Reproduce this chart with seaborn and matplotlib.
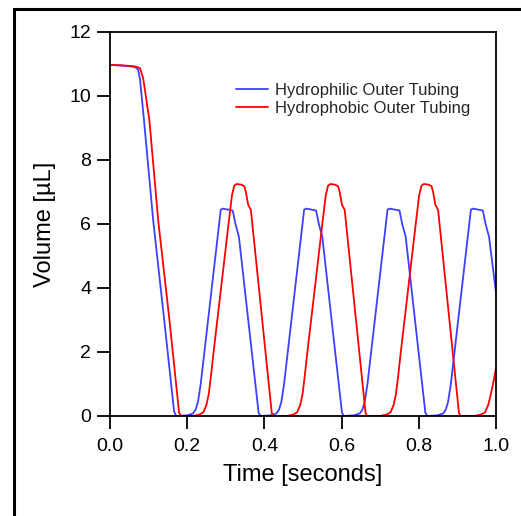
import matplotlib
matplotlib.use("Agg")
import matplotlib.pyplot as plt
import matplotlib.patches as mpatches
import pandas as pd
import seaborn as sns

# Hydrophilic outer tubing (blue) - time [s], volume [uL]
hydrophilic_t = [
    0.000, 0.030, 0.060, 0.068, 0.073, 0.078, 0.088, 0.112, 0.140, 0.166, 0.171,
    0.200, 0.215, 0.222, 0.228, 0.235, 0.287, 0.292, 0.306, 0.318, 0.325, 0.334, 0.385, 0.390,
    0.416, 0.431, 0.438, 0.444, 0.451, 0.503, 0.508, 0.522, 0.534, 0.541, 0.550, 0.601, 0.606,
    0.632, 0.647, 0.654, 0.660, 0.667, 0.719, 0.724, 0.738, 0.750, 0.757, 0.766, 0.817, 0.822,
    0.848, 0.863, 0.870, 0.876, 0.883, 0.935, 0.940, 0.954, 0.966, 0.973, 0.982, 1.000,
]
hydrophilic_v = [
    10.97, 10.95, 10.92, 10.88, 10.82, 10.50, 9.25, 6.10, 3.05, 0.15, 0.00,
    0.02, 0.08, 0.20, 0.45, 1.00, 6.45, 6.48, 6.45, 6.42, 6.00, 5.60, 0.10, 0.00,
    0.02, 0.08, 0.20, 0.45, 1.00, 6.45, 6.48, 6.45, 6.42, 6.00, 5.60, 0.10, 0.00,
    0.02, 0.08, 0.20, 0.45, 1.00, 6.45, 6.48, 6.45, 6.42, 6.00, 5.60, 0.10, 0.00,
    0.02, 0.08, 0.20, 0.45, 1.00, 6.45, 6.48, 6.45, 6.42, 6.00, 5.60, 3.85,
]

# Hydrophobic outer tubing (red)
hydrophobic_t = [
    0.000, 0.030, 0.060, 0.072, 0.078, 0.086, 0.102, 0.125, 0.154, 0.179, 0.184,
    0.215, 0.233, 0.242, 0.250, 0.256, 0.262, 0.268, 0.308, 0.316, 0.322, 0.328, 0.340, 0.348, 0.352, 0.358, 0.365, 0.419, 0.423,
    0.458, 0.476, 0.485, 0.493, 0.499, 0.505, 0.511, 0.551, 0.559, 0.565, 0.571, 0.583, 0.591, 0.595, 0.601, 0.608, 0.662, 0.666,
    0.700, 0.718, 0.727, 0.735, 0.741, 0.747, 0.753, 0.793, 0.801, 0.807, 0.813, 0.825, 0.833, 0.837, 0.843, 0.850, 0.904, 0.908,
    0.945, 0.962, 0.972, 0.980, 0.987, 0.994, 1.000,
]
hydrophobic_v = [
    10.97, 10.96, 10.93, 10.90, 10.86, 10.55, 9.25, 6.10, 3.00, 0.10, 0.00,
    0.00, 0.05, 0.12, 0.35, 0.70, 1.30, 1.96, 6.10, 6.90, 7.20, 7.25, 7.23, 7.18, 7.00, 6.60, 6.44, 0.10, 0.00,
    0.00, 0.05, 0.12, 0.35, 0.70, 1.30, 1.96, 6.10, 6.90, 7.20, 7.25, 7.23, 7.18, 7.00, 6.60, 6.44, 0.10, 0.00,
    0.00, 0.05, 0.12, 0.35, 0.70, 1.30, 1.96, 6.10, 6.90, 7.20, 7.25, 7.23, 7.18, 7.00, 6.60, 6.44, 0.10, 0.00,
    0.00, 0.05, 0.12, 0.35, 0.70, 1.10, 1.50,
]

series_names = ["Hydrophilic Outer Tubing", "Hydrophobic Outer Tubing"]
series_colors = ["#3f3fff", "#ff0000"]

x_ticks = [0.0, 0.2, 0.4, 0.6, 0.8, 1.0]
y_ticks = [0, 2, 4, 6, 8, 10, 12]


def main() -> None:
    sns.set_theme(style="white")
    plt.rcParams["font.family"] = ["Liberation Sans", "DejaVu Sans"]

    df = pd.concat(
        [
            pd.DataFrame({"time": hydrophilic_t, "volume": hydrophilic_v, "series": series_names[0]}),
            pd.DataFrame({"time": hydrophobic_t, "volume": hydrophobic_v, "series": series_names[1]}),
        ],
        ignore_index=True,
    )

    fig = plt.figure(figsize=(5.21, 5.16), dpi=100)
    ax = fig.add_axes([110 / 521, 100 / 516, 386 / 521, 384 / 516])

    sns.lineplot(
        data=df,
        x="time",
        y="volume",
        hue="series",
        hue_order=series_names,
        palette=series_colors,
        estimator=None,
        sort=False,
        linewidth=1.3,
        ax=ax,
    )

    ax.set_xlim(0, 1)
    ax.set_ylim(0, 12)
    ax.set_xticks(x_ticks)
    ax.set_xticklabels([f"{t:.1f}" for t in x_ticks])
    ax.set_yticks(y_ticks)
    ax.tick_params(
        axis="both", direction="out", length=9.5, width=1.3, labelsize=14,
        colors="black", bottom=True, left=True,
    )
    ax.tick_params(axis="x", pad=6)
    ax.tick_params(axis="y", pad=4)
    for side in ["left", "bottom", "right", "top"]:
        ax.spines[side].set_visible(True)
        ax.spines[side].set_color("black")
        ax.spines[side].set_linewidth(1.3)
    ax.set_xlabel("Time [seconds]", fontsize=17, labelpad=7, color="black")
    ax.set_ylabel("Volume [µL]", fontsize=17, labelpad=10, color="black")

    ax.legend(
        title=None,
        loc="upper left",
        bbox_to_anchor=(0.31, 0.885),
        frameon=False,
        fontsize=12,
        handlelength=1.9,
        handletextpad=0.45,
        labelspacing=0.2,
        borderaxespad=0,
    )

    # outer frame around the figure (only top/left edges fall inside the image)
    top = 1 - 9 / 516
    frame = mpatches.Rectangle(
        (13.5 / 521, -0.2), 1.2, top + 0.2,
        transform=fig.transFigure, fill=False, edgecolor="black", linewidth=2.2,
    )
    fig.patches.append(frame)

    fig.savefig("out.png", dpi=100)
    plt.close(fig)


if __name__ == "__main__":
    main()
